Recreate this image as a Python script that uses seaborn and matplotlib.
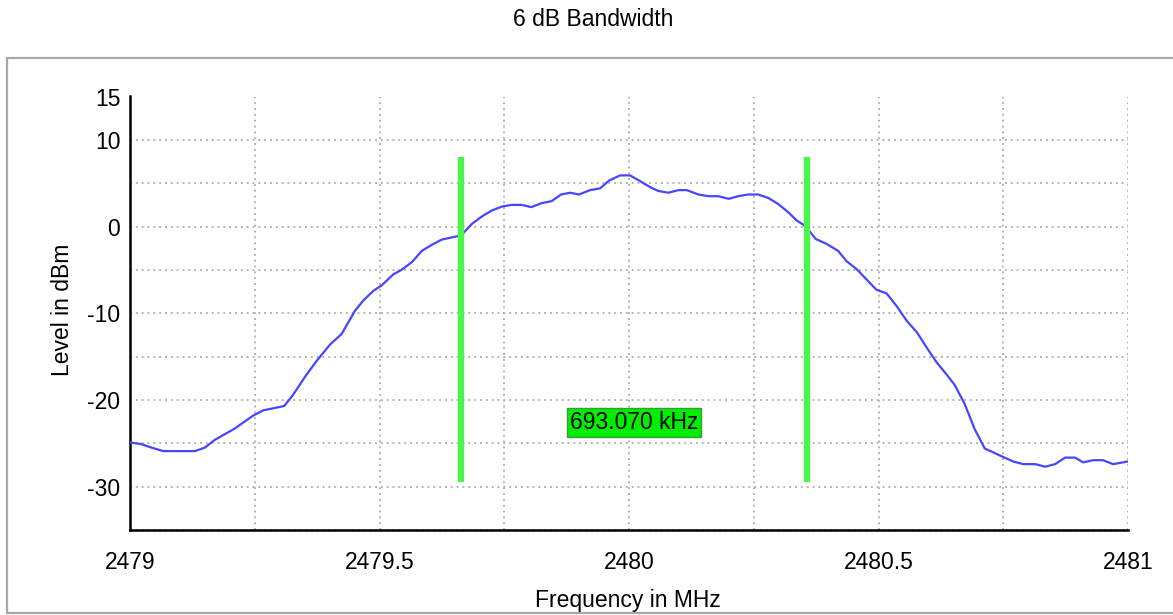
import matplotlib
matplotlib.use("Agg")
import matplotlib.pyplot as plt
from matplotlib.lines import Line2D
from matplotlib.ticker import MultipleLocator, FuncFormatter
import seaborn as sns
import pandas as pd

# Measured spectrum trace
freq_mhz = [
    2479.000, 2479.023, 2479.043, 2479.067, 2479.130, 2479.150, 2479.170, 2479.210,
    2479.227, 2479.247, 2479.267, 2479.309, 2479.327, 2479.351, 2479.374, 2479.401,
    2479.424, 2479.451, 2479.468, 2479.488, 2479.504, 2479.528, 2479.544, 2479.565,
    2479.585, 2479.605, 2479.625, 2479.657, 2479.665, 2479.685, 2479.705, 2479.725,
    2479.745, 2479.765, 2479.785, 2479.804, 2479.825, 2479.845, 2479.864, 2479.882,
    2479.900, 2479.922, 2479.942, 2479.960, 2479.982, 2480.002, 2480.022, 2480.042,
    2480.059, 2480.079, 2480.099, 2480.116, 2480.139, 2480.159, 2480.179, 2480.200,
    2480.219, 2480.239, 2480.259, 2480.279, 2480.299, 2480.319, 2480.336, 2480.353,
    2480.361, 2480.374, 2480.396, 2480.419, 2480.436, 2480.456, 2480.476, 2480.496,
    2480.516, 2480.536, 2480.557, 2480.577, 2480.597, 2480.617, 2480.637, 2480.653,
    2480.673, 2480.693, 2480.713, 2480.747, 2480.770, 2480.790, 2480.814, 2480.834,
    2480.854, 2480.874, 2480.894, 2480.910, 2480.930, 2480.950, 2480.970, 2481.000,
]
level_dbm = [
    -24.9, -25.1, -25.5, -25.9, -25.9, -25.5, -24.6, -23.3,
    -22.6, -21.8, -21.2, -20.7, -19.4, -17.3, -15.5, -13.6,
    -12.4, -9.7, -8.5, -7.4, -6.8, -5.5, -5.0, -4.1,
    -2.8, -2.1, -1.5, -1.1, -0.93, 0.3, 1.16, 1.85,
    2.3, 2.5, 2.5, 2.24, 2.7, 2.93, 3.7, 3.9,
    3.7, 4.2, 4.4, 5.3, 5.9, 5.9, 5.25, 4.55,
    4.1, 3.9, 4.2, 4.2, 3.7, 3.5, 3.5, 3.2,
    3.5, 3.7, 3.7, 3.3, 2.6, 1.66, 0.7, 0.08,
    -0.46, -1.43, -2.0, -2.8, -4.0, -4.9, -6.1, -7.3,
    -7.7, -9.15, -10.9, -12.2, -14.0, -15.7, -17.1, -18.3,
    -20.5, -23.4, -25.6, -26.5, -27.1, -27.4, -27.4, -27.7,
    -27.4, -26.65, -26.65, -27.2, -26.95, -26.95, -27.4, -27.1,
]

# 6 dB bandwidth markers (MHz) and their vertical extent (dBm)
marker_freqs = [2479.663, 2480.35607]
marker_span = [-29.5, 8.0]

x_labels = [2479, 2479.5, 2480, 2480.5, 2481]
y_labels = [15, 10, 0, -10, -20, -30]

sns.set_style("white")
plt.rcParams["font.family"] = ["Liberation Sans", "DejaVu Sans"]
plt.rcParams["text.color"] = "black"
plt.rcParams["axes.labelcolor"] = "black"
FS = 16.5

fig = plt.figure(figsize=(11.73, 6.15), dpi=100)
ax = fig.add_axes([130 / 1173, 1 - 530 / 615, 998 / 1173, (530 - 96.5) / 615])

df = pd.DataFrame({"freq": freq_mhz, "level": level_dbm})
sns.lineplot(data=df, x="freq", y="level", ax=ax, color="#4646ff",
             linewidth=1.6, sort=False, estimator=None, zorder=3)

# Bandwidth markers
ax.vlines(marker_freqs, marker_span[0], marker_span[1],
          color="#4cf54c", linewidth=4.6, zorder=4)

bw_khz = (marker_freqs[1] - marker_freqs[0]) * 1000
ax.text(sum(marker_freqs) / 2, -22.6, f"{bw_khz:.3f} kHz", fontsize=FS,
        ha="center", va="center", color="black", zorder=5,
        bbox=dict(boxstyle="square,pad=0.12", facecolor="#00ee00",
                  edgecolor="#3c9a3c", linewidth=1.0))

ax.set_xlim(2479, 2481)
ax.set_ylim(-35, 15)

ax.xaxis.set_major_locator(MultipleLocator(0.25))
ax.yaxis.set_major_locator(MultipleLocator(5))


def fmt_x(v, pos):
    for lab in x_labels:
        if abs(v - lab) < 1e-6:
            return f"{lab:g}"
    return ""


def fmt_y(v, pos):
    for lab in y_labels:
        if abs(v - lab) < 1e-6:
            return f"{lab:d}"
    return ""


ax.xaxis.set_major_formatter(FuncFormatter(fmt_x))
ax.yaxis.set_major_formatter(FuncFormatter(fmt_y))

ax.tick_params(axis="both", direction="inout", length=10, width=1.8,
               color="black", labelsize=FS, labelcolor="black")
ax.tick_params(axis="x", pad=10)
ax.tick_params(axis="y", pad=2)

# Hide the tick at the bottom-left corner of the y axis
for t in ax.yaxis.get_major_ticks():
    if abs(t.get_loc() - (-35)) < 1e-6:
        t.tick1line.set_visible(False)

ax.grid(True, linestyle=(0, (1, 2)), color="#b4b4b4", linewidth=1.4)
ax.set_axisbelow(True)

for side in ["top", "right"]:
    ax.spines[side].set_visible(False)
for side in ["left", "bottom"]:
    ax.spines[side].set_color("black")
    ax.spines[side].set_linewidth(1.8)

ax.set_xlabel("Frequency in MHz", fontsize=FS)
ax.set_ylabel("Level in dBm", fontsize=FS)
ax.xaxis.set_label_coords(0.499, -0.136)
ax.yaxis.set_label_coords(-0.056, 0.507)

fig.text(593 / 1173, 1 - 20 / 615, "6 dB Bandwidth", fontsize=FS,
         ha="center", va="center")

# Panel frame around the plot
frame_kw = dict(transform=fig.transFigure, color="#a8a8a8", linewidth=1.6)
x0, x1 = 7 / 1173, 1.0
y0, y1 = 1 - 613 / 615, 1 - 58 / 615
fig.add_artist(Line2D([x0, x1], [y1, y1], **frame_kw))
fig.add_artist(Line2D([x0, x0], [y0, y1], **frame_kw))
fig.add_artist(Line2D([x0, x1], [y0, y0], **frame_kw))

fig.savefig("out.png", dpi=100, facecolor="white")
